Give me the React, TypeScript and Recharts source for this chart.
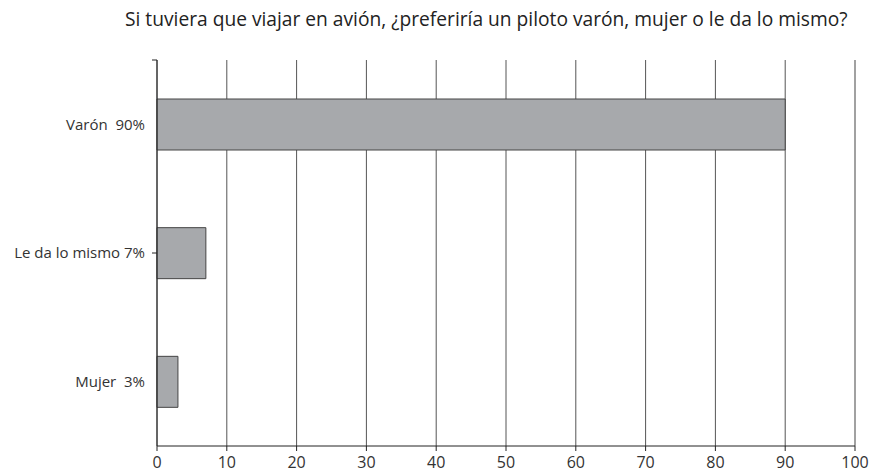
import React from "react";
import { Bar, BarChart, CartesianGrid, ReferenceLine, XAxis, YAxis } from "recharts";

// values
const categories = ["Varón\u00a0 90%", "Le da lo mismo 7%", "Mujer\u00a0 3%"];
const percentages = [90, 7, 3];
const xTicks = [0, 10, 20, 30, 40, 50, 60, 70, 80, 90, 100];
const edgeTicks = [0, 1, 2, 3];
const title = "Si tuviera que viajar en avión, ¿preferiría un piloto varón, mujer o le da lo mismo?";

const data = categories.map((label, i) => ({ label, value: percentages[i] }));

const font = "'Open Sans', sans-serif";

export default function App() {
  return (
    <div style={{ width: 874, height: 475, fontFamily: font }}>
      <style>{`body{margin:0}`}</style>
      <div
        style={{
          height: 37,
          lineHeight: "37px",
          paddingLeft: 125,
          fontSize: 19.2,
          color: "#222",
          whiteSpace: "nowrap",
        }}
      >
        {title}
      </div>
      <BarChart
        width={874}
        height={438}
        data={data}
        layout="vertical"
        margin={{ top: 23, right: 19, bottom: 0, left: 0 }}
        barSize={51}
      >
        <CartesianGrid horizontal={false} stroke="#555" strokeWidth={1} />
        <XAxis
          type="number"
          domain={[0, 100]}
          ticks={xTicks}
          tickSize={5}
          tickMargin={6}
          height={29}
          axisLine={{ stroke: "#222" }}
          tickLine={{ stroke: "#222" }}
          tick={{ fill: "#333", fontSize: 16, fontFamily: font }}
        />
        <YAxis
          yAxisId="cat"
          type="category"
          dataKey="label"
          width={157}
          axisLine={false}
          tickLine={false}
          tickSize={6}
          tickMargin={6}
          tick={{ fill: "#333", fontSize: 15, fontFamily: font }}
        />
        {/* boundary ticks between categories, drawn outward from the plot edge */}
        <YAxis
          yAxisId="edge"
          type="number"
          domain={[0, 3]}
          ticks={edgeTicks}
          mirror
          tick={() => <g />}
          tickSize={-5}
          axisLine={{ stroke: "#222" }}
          tickLine={{ stroke: "#222" }}
        />
        <ReferenceLine yAxisId="edge" y={3} stroke="#bbb" />
        <ReferenceLine yAxisId="edge" x={100} stroke="#999" />
        <Bar
          yAxisId="cat"
          dataKey="value"
          fill="#a7a9ac"
          stroke="#444"
          strokeWidth={1}
          isAnimationActive={false}
        />
      </BarChart>
    </div>
  );
}
